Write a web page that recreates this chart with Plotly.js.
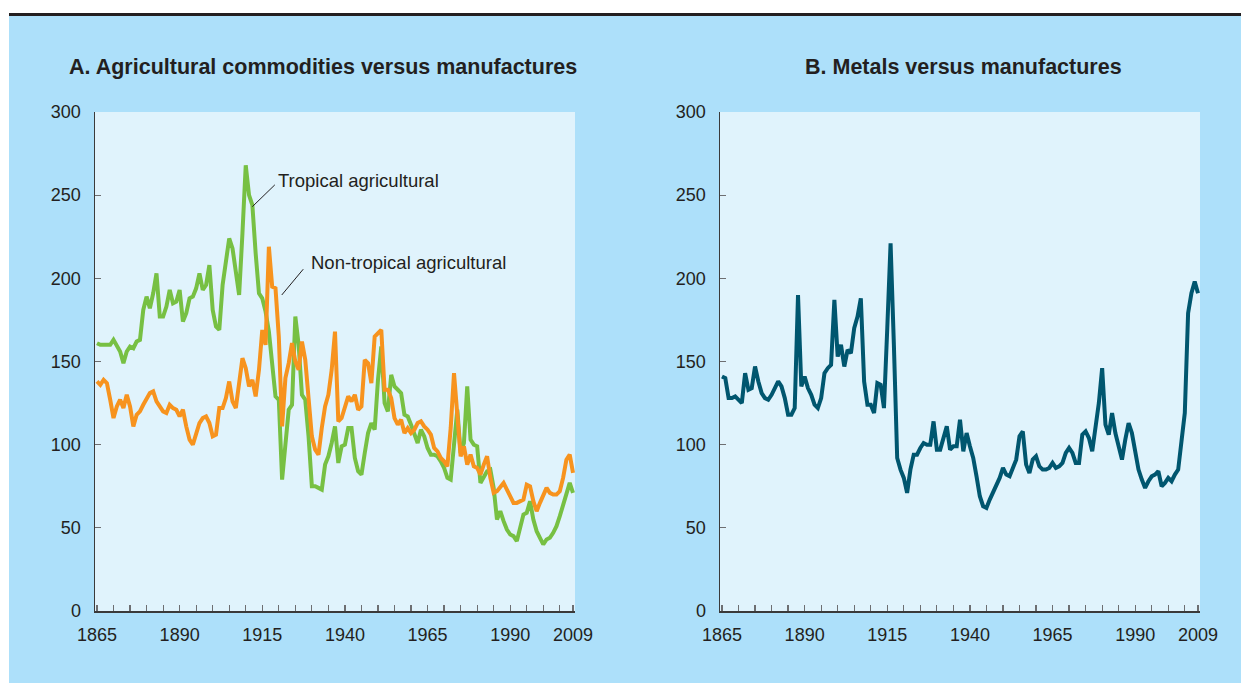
<!DOCTYPE html>
<html>
<head>
<meta charset="utf-8">
<script src="https://cdn.plot.ly/plotly-3.0.1.min.js"></script>
<style>html,body{margin:0;padding:0;background:#fff;}#chart{width:1241px;height:683px;}</style>
</head>
<body>
<div id="chart"></div>
<script>
// Years 1865..2009
const startYear = 1865;
const endYear = 2009;

const tropical = [
161,160,160,160,160,163,160,156,149,156,159,158,162,163,181,189,182,191,203,177,
177,183,193,185,186,193,174,179,188,189,194,203,193,196,208,181,171,169,196,209,
224,218,205,190,227,268,250,244,215,191,188,180,168,150,129,127,79,100,121,124,
177,160,130,127,105,75,75,74,73,88,93,101,111,89,99,100,110,110,92,84,
82,95,107,113,109,139,159,125,120,142,135,133,131,118,117,112,106,101,109,105,
98,94,94,93,90,86,80,79,100,121,95,101,135,103,100,99,77,80,84,85,
74,55,60,54,49,46,45,42,51,58,59,66,55,48,44,40,43,44,47,51,
57,64,72,77,71
];

const nonTropical = [
138,136,139,137,127,116,123,127,122,130,123,111,118,120,124,128,131,132,126,123,
120,119,124,122,121,117,121,111,103,100,107,113,116,117,113,105,106,122,122,128,
138,126,122,138,152,146,135,139,129,145,169,160,219,195,194,165,111,140,149,161,
150,145,162,151,125,105,97,94,110,123,130,145,168,114,116,122,129,126,130,121,
123,151,149,137,165,167,169,133,133,128,116,112,115,107,110,107,109,113,114,111,
109,106,98,96,92,90,87,110,143,118,93,99,88,94,87,86,82,88,93,80,
71,72,75,77,73,69,65,65,66,67,76,75,66,60,65,69,74,71,70,70,
72,80,91,94,83
];

const metals = [
141,140,128,128,129,127,125,143,133,134,147,138,131,128,127,130,134,138,135,128,
118,118,122,190,135,141,134,130,124,122,128,143,146,148,187,153,160,147,157,155,
170,177,188,138,124,124,119,137,136,122,170,221,160,92,85,80,71,85,94,94,
98,101,100,100,114,97,97,105,111,97,99,99,115,96,107,99,92,81,69,63,
62,67,71,76,80,86,82,81,86,91,105,108,88,83,91,93,87,85,85,86,
89,86,87,89,95,98,95,89,89,106,108,104,96,112,125,146,112,106,119,107,
99,91,103,113,107,95,85,79,74,78,81,82,84,75,77,80,78,82,85,102,
119,179,191,198,191
];

const years = [];
for (let y = startYear; y <= endYear; y++) years.push(y);

const tickYears = [];
for (let y = 1865; y <= 2005; y += 5) tickYears.push(y);
tickYears.push(2009);
const labeledYears = [1865, 1890, 1915, 1940, 1965, 1990, 2009];
const tickText = tickYears.map(y => labeledYears.includes(y) ? String(y) : '');

const yTicks = [0, 50, 100, 150, 200, 250, 300];

const seriesTropicalName = 'Tropical agricultural';
const seriesNonTropicalName = 'Non-tropical agricultural';
const seriesMetalsName = 'Metals';

const titleA = 'A. Agricultural commodities versus manufactures';
const titleB = 'B. Metals versus manufactures';

const W = 1241, H = 683;
const textColor = '#231F20';
const font = 'Liberation Sans, Arial, Helvetica, sans-serif';

const traces = [
  {x: years, y: tropical, type: 'scatter', mode: 'lines', name: seriesTropicalName,
   line: {color: '#77C043', width: 4, shape: 'linear'}, xaxis: 'x', yaxis: 'y', hoverinfo: 'x+y'},
  {x: years, y: nonTropical, type: 'scatter', mode: 'lines', name: seriesNonTropicalName,
   line: {color: '#F7931E', width: 4}, xaxis: 'x', yaxis: 'y', hoverinfo: 'x+y'},
  {x: years, y: metals, type: 'scatter', mode: 'lines', name: seriesMetalsName,
   line: {color: '#00566F', width: 4}, xaxis: 'x2', yaxis: 'y2', hoverinfo: 'x+y'}
];

function xAxis(domain, anchor) {
  return {
    domain: domain, anchor: anchor, range: [1864.4, 2009.6],
    tickmode: 'array', tickvals: tickYears, ticktext: tickText,
    ticks: 'inside', ticklen: 6, tickwidth: 1.2, tickcolor: '#6D6E71',
    showline: true, linecolor: '#3A3A3A', linewidth: 1.5,
    showgrid: false, zeroline: false,
    tickfont: {family: font, size: 18, color: textColor},
    ticklabelstandoff: 7, fixedrange: true
  };
}
function yAxis(domain, anchor) {
  return {
    domain: domain, anchor: anchor, range: [0, 300],
    tickmode: 'array', tickvals: yTicks,
    ticks: 'inside', ticklen: 6, tickwidth: 1.2, tickcolor: '#6D6E71',
    showline: true, linecolor: '#3A3A3A', linewidth: 1.5,
    showgrid: false, zeroline: false,
    tickfont: {family: font, size: 18, color: textColor},
    ticklabelstandoff: 9, fixedrange: true
  };
}

const yDom = [(H - 611) / H, (H - 112) / H];
const layout = {
  width: W, height: H,
  margin: {l: 0, r: 0, t: 0, b: 0, pad: 0},
  paper_bgcolor: '#ADE0FA',
  plot_bgcolor: '#E0F3FC',
  showlegend: false,
  xaxis: xAxis([95 / W, 575 / W], 'y'),
  yaxis: yAxis(yDom, 'x'),
  xaxis2: xAxis([720 / W, 1200 / W], 'y2'),
  yaxis2: yAxis(yDom, 'x2'),
  shapes: [
    {type: 'rect', xref: 'paper', yref: 'paper', x0: 0, x1: 1, y0: (H - 13) / H, y1: 1,
     fillcolor: '#FFFFFF', line: {width: 0}},
    {type: 'rect', xref: 'paper', yref: 'paper', x0: 0, x1: 9 / W, y0: 0, y1: 1,
     fillcolor: '#FFFFFF', line: {width: 0}},
    {type: 'rect', xref: 'paper', yref: 'paper', x0: 9 / W, x1: 1, y0: (H - 16) / H, y1: (H - 13) / H,
     fillcolor: '#231F20', line: {width: 0}},
    {type: 'line', xref: 'x', yref: 'y', x0: 1918.8, y0: 256.2, x1: 1912, y1: 243.1,
     line: {color: textColor, width: 1}},
    {type: 'line', xref: 'x', yref: 'y', x0: 1927.4, y0: 205.5, x1: 1920.9, y1: 190.0,
     line: {color: textColor, width: 1}}
  ],
  annotations: [
    {text: '<b>' + titleA + '</b>', xref: 'paper', yref: 'paper', x: 323 / W, y: (H - 67) / H,
     xanchor: 'center', yanchor: 'middle', showarrow: false,
     font: {family: font, size: 21.5, color: textColor}},
    {text: '<b>' + titleB + '</b>', xref: 'paper', yref: 'paper', x: 963 / W, y: (H - 67) / H,
     xanchor: 'center', yanchor: 'middle', showarrow: false,
     font: {family: font, size: 21.5, color: textColor}},
    {text: seriesTropicalName, xref: 'x', yref: 'y', x: 1919.1, y: 258.6,
     xanchor: 'left', yanchor: 'middle', showarrow: false,
     font: {family: font, size: 18.5, color: textColor}},
    {text: seriesNonTropicalName, xref: 'x', yref: 'y', x: 1929.1, y: 209.3,
     xanchor: 'left', yanchor: 'middle', showarrow: false,
     font: {family: font, size: 18.5, color: textColor}}
  ]
};

Plotly.newPlot('chart', traces, layout, {displayModeBar: false, staticPlot: true});
</script>
</body>
</html>
